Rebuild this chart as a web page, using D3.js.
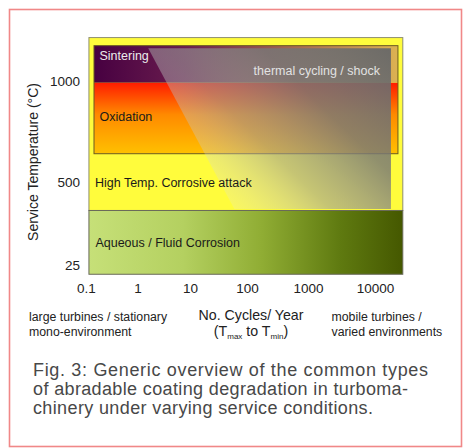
<!DOCTYPE html>
<html>
<head>
<meta charset="utf-8">
<script src="https://cdn.jsdelivr.net/npm/d3@7"></script>
<style>
  html, body { margin: 0; padding: 0; background: #fff; }
  svg { display: block; font-family: "Liberation Sans", Arial, sans-serif; }
</style>
</head>
<body>
<svg id="chart" width="465" height="448"></svg>
<script>
// ---------- data ----------
const xTicks = [0.1, 1, 10, 100, 1000, 10000];
const xTickLabels = ["0.1", "1", "10", "100", "1000", "10000"];
const yTicks = [25, 500, 1000];
const yTickLabels = ["25", "500", "1000"];

// degradation regions: cycles/year range and temperature range (°C)
const bandNames = ["High Temp. Corrosive attack", "Aqueous / Fluid Corrosion", "Oxidation", "Sintering"];
const bandX0 = [0.114, 0.114, 0.143, 0.143];
const bandX1 = [26000, 26000, 22000, 22000];
const bandT0 = [337, -28, 640, 992];
const bandT1 = [1215, 337, 992, 1175];

// thermal cycling / shock overlay polygon (cycles, °C)
const shockCycles = [1.6, 17300, 17300, 60];
const shockTemps = [1162, 1162, 345, 345];
const shockLabel = "thermal cycling / shock";

const xLabelLeft = ["large turbines / stationary", "mono-environment"];
const xLabelRight = ["mobile turbines /", "varied environments"];
const yTitle = "Service Temperature (°C)";
const caption = [
  "Fig. 3: Generic overview of the common types",
  "of abradable coating degradation in turboma-",
  "chinery under varying service conditions."
];

// ---------- scales ----------
const svg = d3.select("#chart");
const x = d3.scaleLinear()
  .domain(xTicks.map(Math.log10))
  .range([86, 137.5, 190, 247, 308, 375]);
const X = v => x(Math.log10(v));
const y = d3.scaleLinear().domain(yTicks).range([265, 182, 81]);

// ---------- defs ----------
const defs = svg.append("defs");
function lin(id, x1, y1, x2, y2, stops, units) {
  const g = defs.append("linearGradient").attr("id", id)
    .attr("x1", x1).attr("y1", y1).attr("x2", x2).attr("y2", y2);
  if (units) g.attr("gradientUnits", units);
  stops.forEach(s => g.append("stop").attr("offset", s[0])
    .attr("stop-color", s[1]).attr("stop-opacity", s[2] == null ? 1 : s[2]));
}
lin("gGreen", 0, 0, 1, 0, [[0, "#c6e078"], [0.3, "#b4d060"], [0.55, "#90ad34"], [0.8, "#5f7a10"], [1, "#455800"]]);
lin("gOx", 0, 0, 0, 1, [[0, "#ff1c00"], [0.45, "#ff8a00"], [1, "#ffc000"]]);
lin("gSint", 0, 0, 1, 0, [[0, "#470041"], [0.3, "#6a1d4e"], [1, "#dcb252"]]);
lin("gShock", X(60), y(345), X(17300), y(1162),
  [[0, "#e4e4e4", 0.22], [0.3, "#9c9c9c", 0.58], [0.6, "#787878", 0.82], [1, "#686868", 0.96]],
  "userSpaceOnUse");

// ---------- frame ----------
svg.append("rect").attr("x", 9.5).attr("y", 9.5).attr("width", 452).attr("height", 437)
  .attr("fill", "none").attr("stroke", "#f08888").attr("stroke-width", 1.6);

// ---------- bands ----------
const fills = ["#fffc3c", "url(#gGreen)", "url(#gOx)", "url(#gSint)"];
const strokes = ["#8f8f70", "#6a6a5a", null, null];
bandNames.forEach((n, i) => {
  const r = svg.append("rect")
    .attr("x", X(bandX0[i])).attr("y", y(bandT1[i]))
    .attr("width", X(bandX1[i]) - X(bandX0[i]))
    .attr("height", y(bandT0[i]) - y(bandT1[i]))
    .attr("fill", fills[i]);
  if (strokes[i]) r.attr("stroke", strokes[i]).attr("stroke-width", 1);
});
// inner box outline (oxidation + sintering)
svg.append("rect")
  .attr("x", X(bandX0[2])).attr("y", y(bandT1[3]))
  .attr("width", X(bandX1[2]) - X(bandX0[2]))
  .attr("height", y(bandT0[2]) - y(bandT1[3]))
  .attr("fill", "none").attr("stroke", "#6b5a22").attr("stroke-width", 1);

// ---------- overlay ----------
svg.append("polygon")
  .attr("points", shockCycles.map((c, i) => [X(c), y(shockTemps[i])].join(",")).join(" "))
  .attr("fill", "url(#gShock)");

// ---------- band labels ----------
const lab = (t, xx, yy, col, anchor) => svg.append("text").attr("x", xx).attr("y", yy)
  .attr("fill", col).attr("font-size", 12.5).attr("text-anchor", anchor || "start").text(t);
lab(bandNames[3], X(bandX0[3]) + 5.5, y(bandT1[3]) + 14, "#ececec");
lab(shockLabel, X(shockCycles[1]) - 11, y(bandT0[3]) - 8, "#e2e2e2", "end");
lab(bandNames[2], X(bandX0[2]) + 5.5, y(bandT1[2]) + 38, "#1a1a1a");
lab(bandNames[0], X(bandX0[0]) + 6, y(500) + 5, "#1a1a1a");
lab(bandNames[1], X(bandX0[1]) + 6.5, y(bandT1[1]) + 37, "#1a1a1a");

// ---------- axes (labels only) ----------
const yAxis = svg.append("g").attr("transform", "translate(80,0)")
  .call(d3.axisLeft(y).tickValues(yTicks).tickFormat((d, i) => yTickLabels[i]).tickSize(0).tickPadding(0));
yAxis.select(".domain").remove();
yAxis.selectAll("text").attr("font-size", 13.5).attr("fill", "#222")
  .attr("font-family", "Liberation Sans, Arial, sans-serif");

const xAxis = svg.append("g").attr("transform", "translate(0,283)")
  .call(d3.axisBottom(x).tickValues(xTicks.map(Math.log10)).tickFormat((d, i) => xTickLabels[i]).tickSize(0).tickPadding(0));
xAxis.select(".domain").remove();
xAxis.selectAll("text").attr("font-size", 13.5).attr("fill", "#222")
  .attr("font-family", "Liberation Sans, Arial, sans-serif");

// y title
svg.append("text").attr("transform", "translate(38,162) rotate(-90)")
  .attr("text-anchor", "middle").attr("font-size", 14).attr("fill", "#222").text(yTitle);

// x sub-labels
xLabelLeft.forEach((t, i) => svg.append("text").attr("x", 29).attr("y", 321 + i * 15)
  .attr("font-size", 12.3).attr("fill", "#222").text(t));
xLabelRight.forEach((t, i) => svg.append("text").attr("x", 331.5).attr("y", 321 + i * 15)
  .attr("font-size", 12.3).attr("fill", "#222").text(t));

// x title
svg.append("text").attr("x", 251).attr("y", 320).attr("text-anchor", "middle")
  .attr("font-size", 14.2).attr("fill", "#222").text("No. Cycles/ Year");
const t2 = svg.append("text").attr("x", 251).attr("y", 336).attr("text-anchor", "middle")
  .attr("font-size", 14.2).attr("fill", "#222");
t2.append("tspan").text("(T");
t2.append("tspan").attr("font-size", 8).attr("dy", 3).text("max");
t2.append("tspan").attr("dy", -3).text(" to T");
t2.append("tspan").attr("font-size", 8).attr("dy", 3).text("min");
t2.append("tspan").attr("dy", -3).text(")");

// caption
const capLen = [395, 375, 340];
caption.forEach((t, i) => svg.append("text").attr("x", 33).attr("y", 375.5 + i * 19)
  .attr("font-size", 18).attr("fill", "#484848")
  .attr("textLength", capLen[i]).attr("lengthAdjust", "spacing").text(t));
</script>
</body>
</html>
